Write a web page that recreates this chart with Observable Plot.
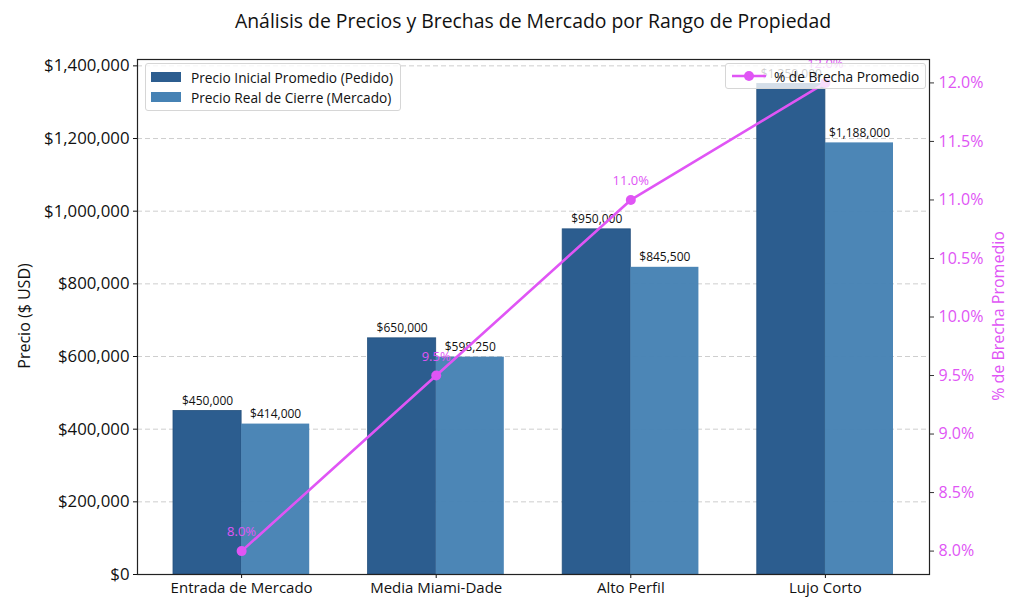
<!DOCTYPE html>
<html>
<head>
<meta charset="utf-8">
<script src="https://cdn.jsdelivr.net/npm/d3@7"></script>
<script src="https://cdn.jsdelivr.net/npm/@observablehq/plot@0.6"></script>
<style>
  body { margin: 0; background: #fff; font-family: "Open Sans", sans-serif; }
  #wrap { position: relative; width: 1023px; height: 614px; }
  #title { position: absolute; left: 137px; width: 792px; top: 7px; text-align: center; font-size: 19.4px; color: #111; }
  #chart { position: absolute; left: 0; top: 40px; }
  .legend { position: absolute; background: rgba(255,255,255,0.8); border: 1px solid #d6d6d6; border-radius: 3px; font-size: 13.7px; color: #111; padding: 3px 7px 3px 5px; }
  .legend .row { display: flex; align-items: center; height: 20px; }
  .sw { width: 30px; height: 10px; margin-right: 10px; }
  .ylab { position: absolute; font-size: 16px; transform: translate(-50%,-50%) rotate(-90deg); white-space: nowrap; }
</style>
</head>
<body>
<div id="wrap">
  <div id="title">Análisis de Precios y Brechas de Mercado por Rango de Propiedad</div>
  <div id="chart"></div>
  <div class="ylab" style="left:24px; top:316px; color:#111;">Precio ($ USD)</div>
  <div class="ylab" style="left:998px; top:316px; color:#e055f5;">% de Brecha Promedio</div>
  <div class="legend" style="left:145px; top:63px;">
    <div class="row"><div class="sw" style="background:#2c5d8f"></div>Precio Inicial Promedio (Pedido)</div>
    <div class="row"><div class="sw" style="background:#4682b4"></div>Precio Real de Cierre (Mercado)</div>
  </div>
  <div class="legend" style="left:725px; top:63px; padding:2px 6px 2px 4px;">
    <div class="row"><svg width="38" height="12" style="margin-right:6px"><line x1="2" y1="6" x2="36" y2="6" stroke="#e055f5" stroke-width="2.5"/><circle cx="19" cy="6" r="5" fill="#e055f5"/></svg>% de Brecha Promedio</div>
  </div>
</div>
<script>
const categories = ["Entrada de Mercado", "Media Miami-Dade", "Alto Perfil", "Lujo Corto"];
const askingPrice = [450000, 650000, 950000, 1350000];
const closingPrice = [414000, 598250, 845500, 1188000];
const gapPct = [8.0, 9.5, 11.0, 12.0];
const priceTicks = [0, 200000, 400000, 600000, 800000, 1000000, 1200000, 1400000];
const pctTicks = [8.0, 8.5, 9.0, 9.5, 10.0, 10.5, 11.0, 11.5, 12.0];

const yMax = 1417500, pMin = 7.8, pMax = 12.2;
const pctToY = p => (p - pMin) / (pMax - pMin) * yMax;
const yToPct = y => y / yMax * (pMax - pMin) + pMin;

const rows = categories.map((c, i) => ({i, c, ask: askingPrice[i], close: closingPrice[i], pct: gapPct[i]}));
const fmtMoney = v => "$" + d3.format(",")(v);
const magenta = "#e055f5";

const chart = Plot.plot({
  width: 1023,
  height: 574,
  marginTop: 19,
  marginBottom: 40,
  marginLeft: 137,
  marginRight: 94,
  style: {fontFamily: "'Open Sans', sans-serif", fontSize: "15px", color: "#111"},
  x: {domain: [-0.535, 3.535]},
  y: {domain: [0, yMax]},
  marks: [
    Plot.ruleY(priceTicks, {stroke: "#c8c8c8", strokeDasharray: "5,3", strokeWidth: 0.9}),
    Plot.rect(rows, {x1: d => d.i - 0.35, x2: d => d.i, y1: 0, y2: "ask", fill: "#2c5d8f", stroke: "#24507d", strokeWidth: 0.8}),
    Plot.rect(rows, {x1: d => d.i, x2: d => d.i + 0.35, y1: 0, y2: "close", fill: "#4682b4", fillOpacity: 0.97}),
    Plot.text(rows, {x: d => d.i - 0.175, y: "ask", text: d => fmtMoney(d.ask), dy: -10, fontSize: 12, fill: "#111"}),
    Plot.text(rows, {x: d => d.i + 0.175, y: "close", text: d => fmtMoney(d.close), dy: -10, fontSize: 12, fill: "#111"}),
    Plot.line(rows, {x: "i", y: d => pctToY(d.pct), stroke: magenta, strokeWidth: 2.6}),
    Plot.dot(rows, {x: "i", y: d => pctToY(d.pct), r: 5, fill: magenta}),
    Plot.text(rows, {x: "i", y: d => pctToY(d.pct), text: d => d.pct.toFixed(1) + "%", dy: -19, fontSize: 13, fill: magenta}),
    Plot.axisX({ticks: [0, 1, 2, 3], tickFormat: i => categories[i], tickSize: 4, tickPadding: 4, label: null, fontSize: 15}),
    Plot.axisY({ticks: priceTicks, tickFormat: fmtMoney, tickSize: 4, tickPadding: 4, label: null, fontSize: 16.8}),
    Plot.axisY({anchor: "right", ticks: pctTicks.map(pctToY), tickFormat: v => yToPct(v).toFixed(1) + "%", tickSize: 4, tickPadding: 5, label: null, fontSize: 16, color: magenta, stroke: "#333"}),
    Plot.frame({stroke: "#222", strokeWidth: 1.2})
  ]
});
document.getElementById("chart").appendChild(chart);
</script>
</body>
</html>
